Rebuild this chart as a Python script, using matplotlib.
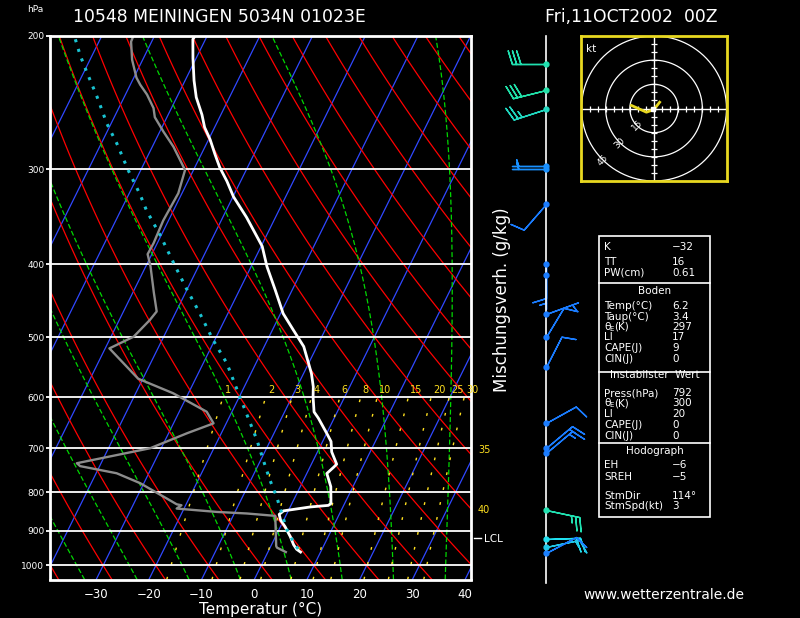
import numpy as np
import matplotlib
matplotlib.use('Agg')
import matplotlib.pyplot as plt
from matplotlib.patches import Rectangle
from matplotlib.lines import Line2D
from matplotlib.ticker import NullLocator

# ---------------- sounding values ----------------
# temperature profile (hPa, degC)
temp_p = [200, 202, 214, 229, 241, 254, 264, 274, 286, 298, 311, 326, 347, 379,
          403, 433, 465, 489, 514, 541, 558, 581, 599, 627, 639, 669, 686, 708,
          735, 742, 756, 787, 828, 833, 837, 847, 856, 871, 889, 916, 939, 952, 960]
temp_t = [-62.3, -62.4, -60.6, -58.3, -56.3, -53.6, -51.9, -49.7, -47.5, -45.3,
          -42.6, -39.9, -35.5, -29.8, -27.0, -23.2, -19.5, -16.0, -12.5, -10.0,
          -8.5, -6.9, -6.0, -4.4, -3.0, 0.0, 1.6, 2.7, 4.8, 4.5, 3.8, 5.8, 7.4,
          7.1, 3.8, -0.9, -1.4, -0.6, 0.9, 2.8, 4.2, 5.2, 6.2]

# dewpoint profile (hPa, degC)
dew_p = [200, 203.5, 215, 227, 232, 239, 249, 256, 267.5, 280, 291.5, 300.6, 322.6,
         350.4, 375.6, 388.2, 402.9, 436.4, 462, 474.2, 498.8, 516.9, 566.8, 592.4,
         626.6, 649.2, 669, 700.2, 732.8, 739.3, 755.5, 778.7, 815.9, 830.2, 832.7,
         841.1, 849.7, 853.8, 860, 942.3, 947.1, 960]
dew_t = [-74.0, -73.9, -72.0, -69.5, -68.1, -65.9, -63.4, -62.3, -59.3, -56.0, -53.5,
         -51.6, -50.7, -51.0, -50.7, -50.8, -49.1, -46.0, -43.7, -44.2, -45.7, -49.2,
         -40.9, -32.9, -24.8, -22.4, -26.5, -32.1, -44.6, -43.7, -36.1, -30.7, -24.2,
         -21.8, -20.8, -21.4, -13.5, -7.6, -2.0, 1.0, 1.3, 3.4]

# lifted surface parcel (hPa, degC)
parcel_p = [202, 212, 223, 240.5, 261, 277, 300.6, 324, 340, 367, 399, 431, 465,
            504, 541, 599, 639, 683, 726, 771, 812, 845, 897, 942, 960]
parcel_t = [-84.7, -82.3, -79.5, -75.2, -70.8, -67.1, -62.4, -57.8, -55.1, -50.1,
            -45.0, -40.2, -35.3, -30.3, -25.5, -19.9, -16.3, -12.6, -9.5, -6.4,
            -3.5, -1.5, 1.5, 4.7, 6.2]

# wind profile: pressure (hPa), direction (deg), speed (kt), colour
wind_p = [218, 236, 250, 297, 300, 333, 400, 413, 465, 500, 547, 648, 700, 710,
          846, 924, 945, 962]
wind_dir = [270, 256, 252, 270, 270, 221, 180, 180, 70, 31, 27, 61, 50, 50,
            102, 88, 78, 62]
wind_spd = [30, 30, 25, 5, 5, 10, 10, 5, 5, 10, 10, 10, 15, 15, 25, 20, 15, 10]
wind_col = ['#20e0b0', '#20e0a8', '#20d8c0', '#1890ff', '#1890ff', '#1a7cff',
            '#1a7cff', '#1a7cff', '#1a7cff', '#1a7cff', '#1a7cff', '#1a7cff',
            '#1a7cff', '#1a7cff', '#20e0b0', '#20e0f0', '#20c8e8', '#1a80ff']

# hodograph trace (kt)
hodo_u = [-14.0, -4.7, 0.0, 3.5]
hodo_v = [1.9, -2.3, -0.6, 3.9]
hodo_rings = [15, 30, 45]

mix_ratios = [1, 2, 3, 4, 6, 8, 10, 15, 20, 25, 30]
isobars = [200, 300, 400, 500, 600, 700, 800, 900, 1000]

# index table; 'TE' marks a theta_E label
table_rows = [('K', '\u221232'), ('TT', '16'), ('PW(cm)', '0.61'),
              ('Temp(\u00b0C)', '6.2'), ('Taup(\u00b0C)', '3.4'),
              ('TE', '297'), ('LI', '17'), ('CAPE(J)', '9'),
              ('CIN(J)', '0'),
              ('Press(hPa)', '792'), ('TE', '300'), ('LI', '20'),
              ('CAPE(J)', '0'), ('CIN(J)', '0'),
              ('EH', '\u22126'), ('SREH', '\u22125'), ('StmDir', '114\u00b0'),
              ('StmSpd(kt)', '3')]
table_heads = ['Boden', 'Instabilster  Wert', 'Hodograph']

# ---------------- layout helpers (pixel -> figure fraction) ----------------
W, H = 800, 618


def fx(x):
    return x / W


def fy(y):
    return 1 - y / H


P_BOT, P_TOP = 1043.5, 200.0
SKEW = 30.9
T_LEFT, T_RIGHT = -38.77, 41.12


def skew_x(t, p):
    return np.asarray(t, float) + SKEW * np.log(P_BOT / np.asarray(p, float))


def moist_adiabat(t0, p_from, p_to, n=400):
    # pseudo-adiabatic temperature from t0 (degC) at p_from, integrated to p_to
    Rd, cp, Lv, eps = 287.04, 1005.7, 2.501e6, 0.622
    ps = np.linspace(p_from, p_to, n)
    T = t0 + 273.15
    out = [T]

    def dtdp(T, p):
        es = 6.112 * np.exp(17.67 * (T - 273.15) / (T - 29.65))
        rs = eps * es / (p - es)
        return (Rd * T + Lv * rs) / (p * (cp + Lv * Lv * rs * eps / (Rd * T * T)))

    for i in range(1, n):
        dp = ps[i] - ps[i - 1]
        k1 = dtdp(T, ps[i - 1])
        k2 = dtdp(T + k1 * dp / 2, ps[i - 1] + dp / 2)
        T = T + k2 * dp
        out.append(T)
    return ps, np.array(out) - 273.15


def dewpoint_from_w(w, p):
    e = w * p / (622.0 + w)
    a = np.log(e / 6.112)
    return 243.5 * a / (17.67 - a)


fig = plt.figure(figsize=(8, 6.18), dpi=100, facecolor='black')

# ---------------- main skew-T panel ----------------
ax = fig.add_axes([fx(50), fy(579.5), 421 / W, 543.5 / H])
ax.set_facecolor('black')
ax.set_yscale('log')
ax.set_ylim(P_BOT, P_TOP)
ax.set_xlim(T_LEFT, T_RIGHT)

pp = np.geomspace(P_BOT, P_TOP, 120)

# isotherms
for t in range(-130, 50, 10):
    ax.plot(skew_x([t, t], [P_BOT, P_TOP]), [P_BOT, P_TOP], color='#3048ff', lw=0.9)

# dry adiabats
for th in range(-40, 160, 10):
    tt = (th + 273.15) * (pp / 1000.0) ** 0.2857 - 273.15
    ax.plot(skew_x(tt, pp), pp, color='#ff0000', lw=0.9)

# moist adiabats
for t0 in range(-45, 45, 10):
    p_up, t_up = moist_adiabat(t0, 1000.0, P_TOP)
    p_dn, t_dn = moist_adiabat(t0, 1000.0, P_BOT, n=20)
    p_all = np.concatenate([p_dn[::-1], p_up[1:]])
    t_all = np.concatenate([t_dn[::-1], t_up[1:]])
    ax.plot(skew_x(t_all, p_all), p_all, color='#00d800', lw=0.9,
            linestyle=(0, (4, 2)))

# mixing ratio lines
pm = np.geomspace(P_BOT, 600, 40)
for w in mix_ratios:
    td = dewpoint_from_w(w, pm)
    ax.plot(skew_x(td, pm), pm, color='#ffe020', lw=1, linestyle=(0, (2, 9)))
    lab_p = 586.6
    ax.text(skew_x(dewpoint_from_w(w, lab_p), lab_p), lab_p, str(w), color='#ffe020',
            fontsize=7, ha='left', va='center', clip_on=False)

# isobars
for p in isobars:
    ax.axhline(p, color='white', lw=1.3)

# profiles
ax.plot(skew_x(dew_t, dew_p), dew_p, color='#8c8c8c', lw=1.7)
ax.plot(skew_x(temp_t, temp_p), temp_p, color='white', lw=2.0)
ax.plot(skew_x(parcel_t, parcel_p), parcel_p, color='#19c3d2', lw=2.2,
        linestyle=(0, (1, 2.3)))

ax.set_yticks(isobars)
ax.set_yticklabels([str(p) for p in isobars])
ax.yaxis.set_minor_locator(NullLocator())
ax.tick_params(axis='y', colors='white', labelsize=6.5, length=3, width=1.3, pad=1)
ax.set_xticks(range(-30, 41, 10))
ax.set_xticklabels(['\u221230', '\u221220', '\u221210', '0', '10', '20', '30', '40'])
ax.tick_params(axis='x', colors='white', labelsize=8.5, length=0, pad=6)
for s in ax.spines.values():
    s.set_color('white')
    s.set_linewidth(2)
ax.set_xlabel('Temperatur (\u00b0C)', color='white', fontsize=11, labelpad=1)

# side labels
for txt, y in [('35', 450), ('40', 510)]:
    fig.text(fx(478), fy(y), txt, color='#ffe020', fontsize=7, va='center')
fig.add_artist(Line2D([fx(474), fx(481)], [fy(538), fy(538)], color='white', lw=1))
fig.text(fx(484), fy(539), 'LCL', color='white', fontsize=7.5, va='center')
fig.text(fx(27), fy(10), 'hPa', color='white', fontsize=6.5, va='center')
fig.text(fx(502), fy(300), 'Mischungsverh. (g/kg)', color='white', fontsize=12,
         rotation=90, ha='center', va='center')

fig.text(fx(73), fy(17), '10548 MEININGEN 5034N 01023E', color='white', fontsize=12.4,
         va='center')
fig.text(fx(545), fy(17), 'Fri,11OCT2002  00Z', color='white', fontsize=12.4,
         va='center')
fig.text(fx(583), fy(595), 'www.wetterzentrale.de', color='white', fontsize=10,
         va='center')

# ---------------- wind barbs ----------------
axw = fig.add_axes([fx(500), fy(579.5), 91 / W, 543.5 / H])
axw.set_yscale('log')
axw.set_ylim(P_BOT, P_TOP)
axw.set_xlim(0, 1)
axw.axis('off')
axw.plot([0.5, 0.5], [1055, P_TOP], color='white', lw=1.2, clip_on=False)
for p, d, s, c in zip(wind_p, wind_dir, wind_spd, wind_col):
    u = -s * np.sin(np.radians(d))
    v = -s * np.cos(np.radians(d))
    axw.barbs([0.5], [p], [u], [v], length=7, color=c, lw=1, clip_on=False)
    axw.plot(0.5, p, 'o', color=c, ms=3.5)

# ---------------- hodograph ----------------
axh = fig.add_axes([fx(581), fy(181), 146 / W, 145 / H])
axh.set_facecolor('black')
axh.set_xlim(-45.3, 45.3)
axh.set_ylim(-45, 45)
axh.set_xticks([])
axh.set_yticks([])
for s in axh.spines.values():
    s.set_color('#e8d820')
    s.set_linewidth(2)
ang = np.linspace(0, 2 * np.pi, 200)
for r in hodo_rings:
    axh.plot(r * np.cos(ang), r * np.sin(ang), color='white', lw=0.9)
    axh.text(-0.707 * r, -0.707 * r, str(r), color='white', fontsize=6.5,
             rotation=45, ha='center', va='center')
axh.axhline(0, color='white', lw=1)
axh.axvline(0, color='white', lw=1)
ticks = np.arange(-45, 46, 5)
axh.plot(ticks, np.zeros_like(ticks), '|', color='white', ms=5, mew=0.9)
axh.plot(np.zeros_like(ticks), ticks, '_', color='white', ms=5, mew=0.9)
axh.plot(hodo_u, hodo_v, color='#e8d820', lw=2)
axh.plot(-0.5, -0.5, 's', color='white', ms=3)
axh.text(-42, 40, 'kt', color='white', fontsize=7.5, va='top')

# ---------------- index table ----------------
fig.add_artist(Rectangle((fx(599), fy(516.7)), 111 / W, 280.7 / H, fill=False,
                         ec='white', lw=1.2, transform=fig.transFigure))
for y in [283.3, 371.7, 443.3]:
    fig.add_artist(Line2D([fx(599), fx(710)], [fy(y), fy(y)], color='white', lw=1.2))

row_y = [246.7, 262.3, 272.7,
         305.7, 316.7, 326.7, 337.3, 348.3, 359,
         393.3, 403.3, 414, 425, 436,
         465, 476.7, 495.7, 506]
for (lab, val), y in zip(table_rows, row_y):
    if lab == 'TE':
        # theta with a small subscript E, drawn as separate plain texts
        fig.text(fx(604), fy(y), '\u03b8', color='white', fontsize=7.5, va='center')
        fig.text(fx(609.5), fy(y + 2), 'E', color='white', fontsize=5, va='center')
        fig.text(fx(614), fy(y), '(K)', color='white', fontsize=7.5, va='center')
    else:
        fig.text(fx(604), fy(y), lab, color='white', fontsize=7.5, va='center')
    fig.text(fx(672), fy(y), val, color='white', fontsize=7.5, va='center')
for txt, y in zip(table_heads, [291, 375, 450.7]):
    fig.text(fx(654.5), fy(y), txt, color='white', fontsize=7.5, va='center',
             ha='center')

fig.savefig('out.png', dpi=100, facecolor='black')
